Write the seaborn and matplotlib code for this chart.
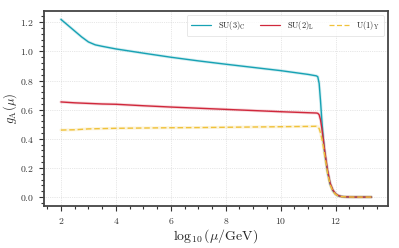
import numpy as np
import pandas as pd
import matplotlib
matplotlib.use("Agg")
import matplotlib.pyplot as plt
import seaborn as sns
from matplotlib.ticker import MultipleLocator

# log10(mu/GeV)
x = [2.0, 2.25, 2.5, 2.75, 3.0, 3.25, 3.5, 4.0, 5.0, 6.0, 7.0, 8.0, 9.0, 10.0, 11.0,
     11.3, 11.35, 11.4, 11.45, 11.5, 11.55, 11.6, 11.7, 11.8, 11.9, 12.0, 12.1,
     12.2, 12.4, 12.7, 13.0, 13.3]

g_su3 = [1.22, 1.18, 1.14, 1.10, 1.065, 1.045, 1.035, 1.017, 0.988, 0.960, 0.935,
         0.912, 0.890, 0.868, 0.842, 0.832, 0.826, 0.78, 0.66, 0.52, 0.40, 0.31,
         0.18, 0.09, 0.045, 0.02, 0.009, 0.004, 0.001, 0.0, 0.0, 0.0]
g_su2 = [0.653, 0.650, 0.647, 0.645, 0.643, 0.641, 0.639, 0.637, 0.627, 0.618, 0.610,
         0.602, 0.594, 0.586, 0.579, 0.577, 0.575, 0.565, 0.53, 0.47, 0.40, 0.32,
         0.19, 0.095, 0.048, 0.022, 0.010, 0.004, 0.001, 0.0, 0.0, 0.0]
g_u1 = [0.460, 0.461, 0.462, 0.465, 0.468, 0.469, 0.470, 0.472, 0.474, 0.476, 0.477,
        0.479, 0.481, 0.483, 0.485, 0.486, 0.484, 0.47, 0.44, 0.40, 0.35, 0.29,
        0.17, 0.085, 0.040, 0.018, 0.008, 0.003, 0.001, 0.0, 0.0, 0.0]

labels = [r"SU(3)$_\mathrm{C}$", r"SU(2)$_\mathrm{L}$", r"U(1)$_\mathrm{Y}$"]
colors = ["#17a2b4", "#d0283c", "#f0c23b"]

df = pd.concat([
    pd.DataFrame({"x": x, "g": g_su3, "group": labels[0]}),
    pd.DataFrame({"x": x, "g": g_su2, "group": labels[1]}),
    pd.DataFrame({"x": x, "g": g_u1, "group": labels[2]}),
])

sns.set_theme(style="whitegrid")
plt.rcParams.update({
    "font.family": "serif",
    "font.serif": ["cmr10", "DejaVu Serif"],
    "mathtext.fontset": "cm",
    "axes.formatter.use_mathtext": True,
    "axes.unicode_minus": False,
})

fig = plt.figure(figsize=(3.99, 2.48), dpi=100)
ax = fig.add_axes([0.110, 0.169, 0.862, 0.787])

# soft halo under each curve
for lab, col in zip(labels, colors):
    sub = df[df["group"] == lab]
    ax.plot(sub["x"], sub["g"], color=col, lw=2.2, alpha=0.18, zorder=2)

sns.lineplot(data=df, x="x", y="g", hue="group", style="group",
             palette=dict(zip(labels, colors)),
             dashes={labels[0]: "", labels[1]: "", labels[2]: (4, 2)},
             linewidth=1.0, ax=ax, zorder=3)

ax.set_xlim(1.38, 13.9)
ax.set_ylim(-0.062, 1.278)
ax.xaxis.set_major_locator(MultipleLocator(2))
ax.xaxis.set_minor_locator(MultipleLocator(0.5))
ax.yaxis.set_major_locator(MultipleLocator(0.2))
ax.yaxis.set_minor_locator(MultipleLocator(0.04))
ax.tick_params(which="both", direction="out", left=True, bottom=True,
               labelsize=7, colors="#333333", width=0.8)
ax.tick_params(which="major", length=3.5)
ax.tick_params(which="minor", length=2)
ax.grid(True, which="major", ls=":", lw=0.5, color="#d0d0d0")
for s in ax.spines.values():
    s.set_color("#444444")
    s.set_linewidth(1.3)

ax.set_xlabel(r"$\log_{10}(\mu/\mathrm{GeV})$", fontsize=10, labelpad=1)
ax.set_ylabel(r"$g_{\mathrm{A}}(\mu)$", fontsize=9, labelpad=1)

leg = ax.legend(loc="upper right", ncol=3, fontsize=6, frameon=True,
                handlelength=2.4, columnspacing=1.8, borderpad=0.5)
for h in leg.get_lines():
    h.set_linewidth(0.9)
leg.get_frame().set_edgecolor("#dddddd")
leg.get_frame().set_linewidth(0.6)

fig.savefig("out.png", dpi=100)
